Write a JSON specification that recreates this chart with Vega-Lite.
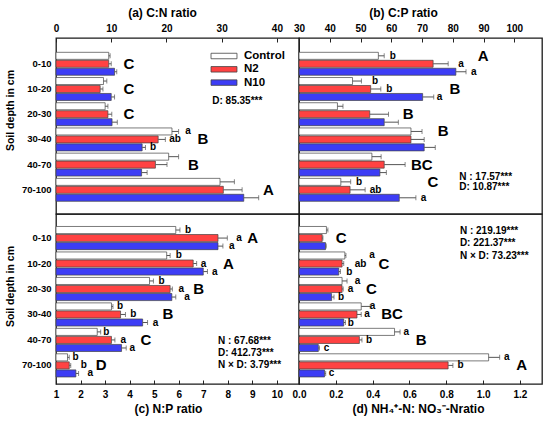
{
  "$schema": "https://vega.github.io/schema/vega-lite/v6.json",
  "background": "white",
  "padding": {"left": 4, "top": 5, "right": 5, "bottom": 5},
  "datasets": {
    "bars": [
      {"p": "a", "d": "0-10", "t": "Control", "v": 9.55, "e": 9.8},
      {"p": "a", "d": "0-10", "t": "N2", "v": 9.55, "e": 10.0},
      {"p": "a", "d": "0-10", "t": "N10", "v": 10.6, "e": 11.0},
      {"p": "a", "d": "10-20", "t": "Control", "v": 8.6, "e": 9.2},
      {"p": "a", "d": "10-20", "t": "N2", "v": 8.0, "e": 8.5},
      {"p": "a", "d": "10-20", "t": "N10", "v": 10.0, "e": 10.6},
      {"p": "a", "d": "20-30", "t": "Control", "v": 8.9, "e": 9.4},
      {"p": "a", "d": "20-30", "t": "N2", "v": 9.4, "e": 10.1},
      {"p": "a", "d": "20-30", "t": "N10", "v": 10.15, "e": 11.1},
      {"p": "a", "d": "30-40", "t": "Control", "v": 21.0, "e": 22.2},
      {"p": "a", "d": "30-40", "t": "N2", "v": 18.5, "e": 19.8},
      {"p": "a", "d": "30-40", "t": "N10", "v": 15.6, "e": 16.2},
      {"p": "a", "d": "40-70", "t": "Control", "v": 20.4, "e": 22.2},
      {"p": "a", "d": "40-70", "t": "N2", "v": 18.0, "e": 20.1},
      {"p": "a", "d": "40-70", "t": "N10", "v": 15.5, "e": 16.5},
      {"p": "a", "d": "70-100", "t": "Control", "v": 29.7, "e": 32.3},
      {"p": "a", "d": "70-100", "t": "N2", "v": 30.3, "e": 33.7},
      {"p": "a", "d": "70-100", "t": "N10", "v": 34.0, "e": 36.7},
      {"p": "b", "d": "0-10", "t": "Control", "v": 55.8, "e": 57.7},
      {"p": "b", "d": "0-10", "t": "N2", "v": 73.6, "e": 78.5},
      {"p": "b", "d": "0-10", "t": "N10", "v": 81.0, "e": 84.3},
      {"p": "b", "d": "10-20", "t": "Control", "v": 47.4, "e": 50.3},
      {"p": "b", "d": "10-20", "t": "N2", "v": 53.3, "e": 56.6},
      {"p": "b", "d": "10-20", "t": "N10", "v": 70.2, "e": 73.8},
      {"p": "b", "d": "20-30", "t": "Control", "v": 42.5, "e": 44.3},
      {"p": "b", "d": "20-30", "t": "N2", "v": 53.0, "e": 59.1},
      {"p": "b", "d": "20-30", "t": "N10", "v": 57.7, "e": 62.3},
      {"p": "b", "d": "30-40", "t": "Control", "v": 66.4, "e": 70.0},
      {"p": "b", "d": "30-40", "t": "N2", "v": 66.4, "e": 70.7},
      {"p": "b", "d": "30-40", "t": "N10", "v": 70.7, "e": 74.3},
      {"p": "b", "d": "40-70", "t": "Control", "v": 53.7, "e": 56.7},
      {"p": "b", "d": "40-70", "t": "N2", "v": 57.7, "e": 64.5},
      {"p": "b", "d": "40-70", "t": "N10", "v": 56.3, "e": 58.4},
      {"p": "b", "d": "70-100", "t": "Control", "v": 43.6, "e": 46.8},
      {"p": "b", "d": "70-100", "t": "N2", "v": 46.6, "e": 51.5},
      {"p": "b", "d": "70-100", "t": "N10", "v": 62.6, "e": 68.0},
      {"p": "c", "d": "0-10", "t": "Control", "v": 5.88, "e": 6.05},
      {"p": "c", "d": "0-10", "t": "N2", "v": 7.6, "e": 7.98},
      {"p": "c", "d": "0-10", "t": "N10", "v": 7.6, "e": 7.8},
      {"p": "c", "d": "10-20", "t": "Control", "v": 5.51, "e": 5.65},
      {"p": "c", "d": "10-20", "t": "N2", "v": 6.59, "e": 6.73},
      {"p": "c", "d": "10-20", "t": "N10", "v": 7.0, "e": 7.17},
      {"p": "c", "d": "20-30", "t": "Control", "v": 4.81, "e": 4.97},
      {"p": "c", "d": "20-30", "t": "N2", "v": 5.65, "e": 5.74},
      {"p": "c", "d": "20-30", "t": "N10", "v": 5.72, "e": 5.88},
      {"p": "c", "d": "30-40", "t": "Control", "v": 3.26, "e": 3.32},
      {"p": "c", "d": "30-40", "t": "N2", "v": 3.63, "e": 3.83},
      {"p": "c", "d": "30-40", "t": "N10", "v": 4.53, "e": 4.73},
      {"p": "c", "d": "40-70", "t": "Control", "v": 2.68, "e": 2.82},
      {"p": "c", "d": "40-70", "t": "N2", "v": 3.26, "e": 3.4},
      {"p": "c", "d": "40-70", "t": "N10", "v": 3.67, "e": 3.86},
      {"p": "c", "d": "70-100", "t": "Control", "v": 1.47, "e": 1.54},
      {"p": "c", "d": "70-100", "t": "N2", "v": 1.54, "e": 1.6},
      {"p": "c", "d": "70-100", "t": "N10", "v": 1.81, "e": 1.92},
      {"p": "d", "d": "0-10", "t": "Control", "v": 0.149, "e": 0.157},
      {"p": "d", "d": "0-10", "t": "N2", "v": 0.126, "e": 0.13},
      {"p": "d", "d": "0-10", "t": "N10", "v": 0.144, "e": 0.148},
      {"p": "d", "d": "10-20", "t": "Control", "v": 0.249, "e": 0.255},
      {"p": "d", "d": "10-20", "t": "N2", "v": 0.234, "e": 0.243},
      {"p": "d", "d": "10-20", "t": "N10", "v": 0.216, "e": 0.225},
      {"p": "d", "d": "20-30", "t": "Control", "v": 0.234, "e": 0.261},
      {"p": "d", "d": "20-30", "t": "N2", "v": 0.234, "e": 0.24},
      {"p": "d", "d": "20-30", "t": "N10", "v": 0.177, "e": 0.19},
      {"p": "d", "d": "30-40", "t": "Control", "v": 0.338, "e": 0.387},
      {"p": "d", "d": "30-40", "t": "N2", "v": 0.315, "e": 0.338},
      {"p": "d", "d": "30-40", "t": "N10", "v": 0.243, "e": 0.252},
      {"p": "d", "d": "40-70", "t": "Control", "v": 0.519, "e": 0.549},
      {"p": "d", "d": "40-70", "t": "N2", "v": 0.328, "e": 0.342},
      {"p": "d", "d": "40-70", "t": "N10", "v": 0.105, "e": 0.111},
      {"p": "d", "d": "70-100", "t": "Control", "v": 1.03, "e": 1.09},
      {"p": "d", "d": "70-100", "t": "N2", "v": 0.81, "e": 0.836},
      {"p": "d", "d": "70-100", "t": "N10", "v": 0.139, "e": 0.145}
    ],
    "sig": [
      {"p": "a", "d": "30-40", "t": "Control", "x": 23.4, "s": "a"},
      {"p": "a", "d": "30-40", "t": "N2", "x": 20.5, "s": "ab"},
      {"p": "a", "d": "30-40", "t": "N10", "x": 17.0, "s": "b"},
      {"p": "b", "d": "0-10", "t": "Control", "x": 59.5, "s": "b"},
      {"p": "b", "d": "0-10", "t": "N2", "x": 81.8, "s": "a"},
      {"p": "b", "d": "0-10", "t": "N10", "x": 85.9, "s": "a"},
      {"p": "b", "d": "10-20", "t": "Control", "x": 53.7, "s": "b"},
      {"p": "b", "d": "10-20", "t": "N2", "x": 58.4, "s": "b"},
      {"p": "b", "d": "10-20", "t": "N10", "x": 74.8, "s": "a"},
      {"p": "b", "d": "70-100", "t": "Control", "x": 48.5, "s": "b"},
      {"p": "b", "d": "70-100", "t": "N2", "x": 53.0, "s": "ab"},
      {"p": "b", "d": "70-100", "t": "N10", "x": 69.6, "s": "a"},
      {"p": "c", "d": "0-10", "t": "Control", "x": 6.26, "s": "b"},
      {"p": "c", "d": "0-10", "t": "N2", "x": 8.34, "s": "a"},
      {"p": "c", "d": "0-10", "t": "N10", "x": 8.05, "s": "a"},
      {"p": "c", "d": "10-20", "t": "Control", "x": 5.88, "s": "b"},
      {"p": "c", "d": "10-20", "t": "N2", "x": 6.9, "s": "a"},
      {"p": "c", "d": "10-20", "t": "N10", "x": 7.36, "s": "a"},
      {"p": "c", "d": "20-30", "t": "Control", "x": 5.18, "s": "b"},
      {"p": "c", "d": "20-30", "t": "N2", "x": 5.99, "s": "a"},
      {"p": "c", "d": "20-30", "t": "N10", "x": 6.23, "s": "a"},
      {"p": "c", "d": "30-40", "t": "Control", "x": 3.49, "s": "b"},
      {"p": "c", "d": "30-40", "t": "N2", "x": 4.03, "s": "b"},
      {"p": "c", "d": "30-40", "t": "N10", "x": 4.94, "s": "a"},
      {"p": "c", "d": "40-70", "t": "Control", "x": 2.93, "s": "b"},
      {"p": "c", "d": "40-70", "t": "N2", "x": 3.63, "s": "a"},
      {"p": "c", "d": "40-70", "t": "N10", "x": 3.99, "s": "a"},
      {"p": "c", "d": "70-100", "t": "Control", "x": 1.67, "s": "b"},
      {"p": "c", "d": "70-100", "t": "N2", "x": 2.01, "s": "b"},
      {"p": "c", "d": "70-100", "t": "N10", "x": 2.28, "s": "a"},
      {"p": "d", "d": "10-20", "t": "Control", "x": 0.382, "s": "a"},
      {"p": "d", "d": "10-20", "t": "N2", "x": 0.303, "s": "ab"},
      {"p": "d", "d": "10-20", "t": "N10", "x": 0.257, "s": "b"},
      {"p": "d", "d": "20-30", "t": "Control", "x": 0.303, "s": "a"},
      {"p": "d", "d": "20-30", "t": "N2", "x": 0.265, "s": "a"},
      {"p": "d", "d": "20-30", "t": "N10", "x": 0.212, "s": "b"},
      {"p": "d", "d": "30-40", "t": "Control", "x": 0.384, "s": "a"},
      {"p": "d", "d": "30-40", "t": "N2", "x": 0.355, "s": "a"},
      {"p": "d", "d": "30-40", "t": "N10", "x": 0.265, "s": "b"},
      {"p": "d", "d": "40-70", "t": "Control", "x": 0.568, "s": "a"},
      {"p": "d", "d": "40-70", "t": "N2", "x": 0.364, "s": "b"},
      {"p": "d", "d": "40-70", "t": "N10", "x": 0.135, "s": "c"},
      {"p": "d", "d": "70-100", "t": "Control", "x": 1.113, "s": "a"},
      {"p": "d", "d": "70-100", "t": "N2", "x": 0.861, "s": "b"},
      {"p": "d", "d": "70-100", "t": "N10", "x": 0.162, "s": "c"}
    ],
    "grp": [
      {"p": "a", "d": "0-10", "t": "N2", "x": 12.2, "s": "C"},
      {"p": "a", "d": "10-20", "t": "N2", "x": 12.2, "s": "C"},
      {"p": "a", "d": "20-30", "t": "N2", "x": 12.2, "s": "C"},
      {"p": "a", "d": "30-40", "t": "N2", "x": 25.6, "s": "B"},
      {"p": "a", "d": "40-70", "t": "N2", "x": 23.9, "s": "B"},
      {"p": "a", "d": "70-100", "t": "N2", "x": 37.5, "s": "A"},
      {"p": "b", "d": "0-10", "t": "Control", "x": 88.1, "s": "A"},
      {"p": "b", "d": "10-20", "t": "N2", "x": 78.9, "s": "B"},
      {"p": "b", "d": "20-30", "t": "N2", "x": 63.7, "s": "B"},
      {"p": "b", "d": "30-40", "t": "Control", "x": 75.1, "s": "B"},
      {"p": "b", "d": "40-70", "t": "N2", "x": 66.4, "s": "BC"},
      {"p": "b", "d": "70-100", "t": "Control", "x": 71.8, "s": "C"},
      {"p": "c", "d": "0-10", "t": "N2", "x": 8.79, "s": "A"},
      {"p": "c", "d": "10-20", "t": "N2", "x": 7.8, "s": "A"},
      {"p": "c", "d": "20-30", "t": "N2", "x": 6.59, "s": "B"},
      {"p": "c", "d": "30-40", "t": "N2", "x": 5.34, "s": "B"},
      {"p": "c", "d": "40-70", "t": "N2", "x": 4.44, "s": "C"},
      {"p": "c", "d": "70-100", "t": "N2", "x": 2.62, "s": "D"},
      {"p": "d", "d": "0-10", "t": "N2", "x": 0.2, "s": "C"},
      {"p": "d", "d": "10-20", "t": "N2", "x": 0.432, "s": "C"},
      {"p": "d", "d": "20-30", "t": "N2", "x": 0.364, "s": "C"},
      {"p": "d", "d": "30-40", "t": "N2", "x": 0.447, "s": "BC"},
      {"p": "d", "d": "40-70", "t": "N2", "x": 0.634, "s": "B"},
      {"p": "d", "d": "70-100", "t": "N2", "x": 1.18, "s": "A"}
    ],
    "stat": [
      {"p": "a", "d": "10-20", "t": "N10", "x": 28.3, "s": "D: 85.35***"},
      {"p": "b", "d": "40-70", "t": "N10", "x": 82.1, "s": "N : 17.57***\nD: 10.87***"},
      {"p": "c", "d": "40-70", "t": "N2", "x": 7.6, "s": "N : 67.68***\nD: 412.73***\nN × D: 3.79***"},
      {"p": "d", "d": "0-10", "t": "Control", "x": 0.874, "s": "N : 219.19***\nD: 221.37***\nN × D: 73.23***"}
    ]
  },
  "columns": 2,
  "spacing": 0,
  "bounds": "flush",
  "align": "each",
  "concat": [
    {
      "width": 243,
      "height": 176,
      "encoding": {
        "y": {"field": "d", "type": "nominal", "sort": ["0-10", "10-20", "20-30", "30-40", "40-70", "70-100"],
              "scale": {"paddingInner": 0.09, "paddingOuter": 0.536, "align": 0.53},
              "axis": {"title": "Soil depth in cm", "ticks": false, "labelPadding": 5, "titlePadding": 6, "titleY": 72}},
        "yOffset": {"field": "t", "sort": ["Control", "N2", "N10"], "scale": {"paddingInner": 0.12}}
      },
      "layer": [
        {
          "data": {"name": "bars"},
          "transform": [{"filter": "datum.p === 'a'"}],
          "mark": {"type": "bar", "stroke": "#444", "strokeWidth": 0.7},
          "encoding": {
            "x": {"field": "v", "type": "quantitative", "scale": {"domain": [0, 44], "nice": false},
                  "axis": {"orient": "top", "title": "(a) C:N ratio", "titleX": 106, "values": [0, 10, 20, 30, 40], "tickCount": 12, "labelOverlap": false}},
            "x2": {"datum": 0},
            "color": {"field": "t", "type": "nominal",
                      "scale": {"domain": ["Control", "N2", "N10"], "range": ["#FFFFFF", "#FF4242", "#3D3DF5"]},
                      "legend": {"orient": "none", "legendX": 162, "legendY": 12, "title": null, "padding": 0,
                                 "symbolType": "M-2.36,-0.5H2.36V0.5H-2.36Z", "symbolSize": 121,
                                 "symbolStrokeColor": "#444", "symbolStrokeWidth": 0.8,
                                 "labelOffset": 14, "rowPadding": 1.3, "labelFontSize": 11.5,
                                 "labelFontWeight": "bold", "labelFont": "Liberation Sans", "labelColor": "black"}}
          }
        },
        {
          "data": {"name": "bars"},
          "transform": [{"filter": "datum.p === 'a'"}],
          "mark": {"type": "rule", "color": "#555", "strokeWidth": 1},
          "encoding": {"x": {"field": "v", "type": "quantitative"}, "x2": {"field": "e"}}
        },
        {
          "data": {"name": "bars"},
          "transform": [{"filter": "datum.p === 'a'"}],
          "mark": {"type": "tick", "orient": "vertical", "color": "#555", "size": 5, "thickness": 1},
          "encoding": {"x": {"field": "e", "type": "quantitative"}}
        },
        {
          "data": {"name": "sig"},
          "transform": [{"filter": "datum.p === 'a'"}],
          "mark": {"type": "text", "align": "left", "baseline": "middle", "fontSize": 10, "fontWeight": "bold", "font": "Liberation Sans"},
          "encoding": {"x": {"field": "x", "type": "quantitative"}, "text": {"field": "s"}}
        },
        {
          "data": {"name": "grp"},
          "transform": [{"filter": "datum.p === 'a'"}],
          "mark": {"type": "text", "align": "left", "baseline": "middle", "fontSize": 15, "fontWeight": "bold", "font": "Liberation Sans"},
          "encoding": {"x": {"field": "x", "type": "quantitative"}, "text": {"field": "s"}}
        },
        {
          "data": {"name": "stat"},
          "transform": [{"filter": "datum.p === 'a'"}],
          "mark": {"type": "text", "align": "left", "baseline": "top", "dy": -1, "fontSize": 10, "fontWeight": "bold", "font": "Liberation Sans"},
          "encoding": {"x": {"field": "x", "type": "quantitative"}, "text": {"field": "s"}}
        }
      ]
    },
    {
      "width": 243,
      "height": 176,
      "encoding": {
        "y": {"field": "d", "type": "nominal", "sort": ["0-10", "10-20", "20-30", "30-40", "40-70", "70-100"],
              "scale": {"paddingInner": 0.09, "paddingOuter": 0.536, "align": 0.53}, "axis": null},
        "yOffset": {"field": "t", "sort": ["Control", "N2", "N10"], "scale": {"paddingInner": 0.12}}
      },
      "layer": [
        {
          "data": {"name": "bars"},
          "transform": [{"filter": "datum.p === 'b'"}],
          "mark": {"type": "bar", "stroke": "#444", "strokeWidth": 0.7},
          "encoding": {
            "x": {"field": "v", "type": "quantitative", "scale": {"domain": [30, 109], "nice": false, "zero": false},
                  "axis": {"orient": "top", "title": "(b) C:P ratio", "titleX": 104, "values": [30, 40, 50, 60, 70, 80, 90, 100], "tickCount": 12, "labelOverlap": false}},
            "x2": {"datum": 30},
            "color": {"field": "t", "type": "nominal", "legend": null}
          }
        },
        {
          "data": {"name": "bars"},
          "transform": [{"filter": "datum.p === 'b'"}],
          "mark": {"type": "rule", "color": "#555", "strokeWidth": 1},
          "encoding": {"x": {"field": "v", "type": "quantitative"}, "x2": {"field": "e"}}
        },
        {
          "data": {"name": "bars"},
          "transform": [{"filter": "datum.p === 'b'"}],
          "mark": {"type": "tick", "orient": "vertical", "color": "#555", "size": 5, "thickness": 1},
          "encoding": {"x": {"field": "e", "type": "quantitative"}}
        },
        {
          "data": {"name": "sig"},
          "transform": [{"filter": "datum.p === 'b'"}],
          "mark": {"type": "text", "align": "left", "baseline": "middle", "fontSize": 10, "fontWeight": "bold", "font": "Liberation Sans"},
          "encoding": {"x": {"field": "x", "type": "quantitative"}, "text": {"field": "s"}}
        },
        {
          "data": {"name": "grp"},
          "transform": [{"filter": "datum.p === 'b'"}],
          "mark": {"type": "text", "align": "left", "baseline": "middle", "fontSize": 15, "fontWeight": "bold", "font": "Liberation Sans"},
          "encoding": {"x": {"field": "x", "type": "quantitative"}, "text": {"field": "s"}}
        },
        {
          "data": {"name": "stat"},
          "transform": [{"filter": "datum.p === 'b'"}],
          "mark": {"type": "text", "align": "left", "baseline": "top", "dy": -1, "lineBreak": "\n", "lineHeight": 10.5, "fontSize": 10, "fontWeight": "bold", "font": "Liberation Sans"},
          "encoding": {"x": {"field": "x", "type": "quantitative"}, "text": {"field": "s"}}
        }
      ]
    },
    {
      "width": 243,
      "height": 170,
      "encoding": {
        "y": {"field": "d", "type": "nominal", "sort": ["0-10", "10-20", "20-30", "30-40", "40-70", "70-100"],
              "scale": {"paddingInner": 0.09, "paddingOuter": 0.383, "align": 0.64},
              "axis": {"title": "Soil depth in cm", "ticks": false, "labelPadding": 5, "titlePadding": 6, "titleY": 72}},
        "yOffset": {"field": "t", "sort": ["Control", "N2", "N10"], "scale": {"paddingInner": 0.12}}
      },
      "layer": [
        {
          "data": {"name": "bars"},
          "transform": [{"filter": "datum.p === 'c'"}],
          "mark": {"type": "bar", "stroke": "#444", "strokeWidth": 0.7},
          "encoding": {
            "x": {"field": "v", "type": "quantitative", "scale": {"domain": [1, 10.9], "nice": false, "zero": false},
                  "axis": {"orient": "bottom", "title": "(c) N:P ratio", "titleX": 112, "values": [1, 2, 3, 4, 5, 6, 7, 8, 9, 10], "tickCount": 12, "labelOverlap": false}},
            "x2": {"datum": 1},
            "color": {"field": "t", "type": "nominal", "legend": null}
          }
        },
        {
          "data": {"name": "bars"},
          "transform": [{"filter": "datum.p === 'c'"}],
          "mark": {"type": "rule", "color": "#555", "strokeWidth": 1},
          "encoding": {"x": {"field": "v", "type": "quantitative"}, "x2": {"field": "e"}}
        },
        {
          "data": {"name": "bars"},
          "transform": [{"filter": "datum.p === 'c'"}],
          "mark": {"type": "tick", "orient": "vertical", "color": "#555", "size": 5, "thickness": 1},
          "encoding": {"x": {"field": "e", "type": "quantitative"}}
        },
        {
          "data": {"name": "sig"},
          "transform": [{"filter": "datum.p === 'c'"}],
          "mark": {"type": "text", "align": "left", "baseline": "middle", "fontSize": 10, "fontWeight": "bold", "font": "Liberation Sans"},
          "encoding": {"x": {"field": "x", "type": "quantitative"}, "text": {"field": "s"}}
        },
        {
          "data": {"name": "grp"},
          "transform": [{"filter": "datum.p === 'c'"}],
          "mark": {"type": "text", "align": "left", "baseline": "middle", "fontSize": 15, "fontWeight": "bold", "font": "Liberation Sans"},
          "encoding": {"x": {"field": "x", "type": "quantitative"}, "text": {"field": "s"}}
        },
        {
          "data": {"name": "stat"},
          "transform": [{"filter": "datum.p === 'c'"}],
          "mark": {"type": "text", "align": "left", "baseline": "top", "dy": -3.5, "lineBreak": "\n", "lineHeight": 11.7, "fontSize": 10, "fontWeight": "bold", "font": "Liberation Sans"},
          "encoding": {"x": {"field": "x", "type": "quantitative"}, "text": {"field": "s"}}
        }
      ]
    },
    {
      "width": 243,
      "height": 170,
      "encoding": {
        "y": {"field": "d", "type": "nominal", "sort": ["0-10", "10-20", "20-30", "30-40", "40-70", "70-100"],
              "scale": {"paddingInner": 0.09, "paddingOuter": 0.383, "align": 0.64}, "axis": null},
        "yOffset": {"field": "t", "sort": ["Control", "N2", "N10"], "scale": {"paddingInner": 0.12}}
      },
      "layer": [
        {
          "data": {"name": "bars"},
          "transform": [{"filter": "datum.p === 'd'"}],
          "mark": {"type": "bar", "stroke": "#444", "strokeWidth": 0.7},
          "encoding": {
            "x": {"field": "v", "type": "quantitative", "scale": {"domain": [0, 1.32], "nice": false},
                  "axis": {"orient": "bottom", "title": "(d) NH₄⁺-N: NO₃⁻-Nratio", "titleX": 119, "values": [0, 0.2, 0.4, 0.6, 0.8, 1.0, 1.2], "format": ".1f", "tickCount": 12, "labelOverlap": false}},
            "x2": {"datum": 0},
            "color": {"field": "t", "type": "nominal", "legend": null}
          }
        },
        {
          "data": {"name": "bars"},
          "transform": [{"filter": "datum.p === 'd'"}],
          "mark": {"type": "rule", "color": "#555", "strokeWidth": 1},
          "encoding": {"x": {"field": "v", "type": "quantitative"}, "x2": {"field": "e"}}
        },
        {
          "data": {"name": "bars"},
          "transform": [{"filter": "datum.p === 'd'"}],
          "mark": {"type": "tick", "orient": "vertical", "color": "#555", "size": 5, "thickness": 1},
          "encoding": {"x": {"field": "e", "type": "quantitative"}}
        },
        {
          "data": {"name": "sig"},
          "transform": [{"filter": "datum.p === 'd'"}],
          "mark": {"type": "text", "align": "left", "baseline": "middle", "fontSize": 10, "fontWeight": "bold", "font": "Liberation Sans"},
          "encoding": {"x": {"field": "x", "type": "quantitative"}, "text": {"field": "s"}}
        },
        {
          "data": {"name": "grp"},
          "transform": [{"filter": "datum.p === 'd'"}],
          "mark": {"type": "text", "align": "left", "baseline": "middle", "fontSize": 15, "fontWeight": "bold", "font": "Liberation Sans"},
          "encoding": {"x": {"field": "x", "type": "quantitative"}, "text": {"field": "s"}}
        },
        {
          "data": {"name": "stat"},
          "transform": [{"filter": "datum.p === 'd'"}],
          "mark": {"type": "text", "align": "left", "baseline": "top", "dy": -4, "lineBreak": "\n", "lineHeight": 12.3, "fontSize": 10, "fontWeight": "bold", "font": "Liberation Sans"},
          "encoding": {"x": {"field": "x", "type": "quantitative"}, "text": {"field": "s"}}
        }
      ]
    }
  ],
  "resolve": {
    "scale": {"x": "independent", "y": "independent", "yOffset": "independent"},
    "axis": {"x": "independent", "y": "independent"},
    "legend": {"color": "independent"}
  },
  "config": {
    "font": "Liberation Sans",
    "view": {"stroke": "#1a1a1a", "strokeWidth": 1.3},
    "axis": {
      "grid": false, "domain": false,
      "labelFont": "Liberation Sans", "labelFontWeight": "bold", "labelFontSize": 10, "labelColor": "black",
      "titleFont": "Liberation Sans", "titleFontWeight": "bold", "titleFontSize": 12, "titleColor": "black",
      "labelFlush": false, "labelOverlap": false
    },
    "axisX": {"tickSize": -4, "tickColor": "#222", "labelPadding": 9, "titlePadding": 4},
    "axisY": {"labelFontSize": 9.5, "titleFontSize": 10.5}
  }
}
